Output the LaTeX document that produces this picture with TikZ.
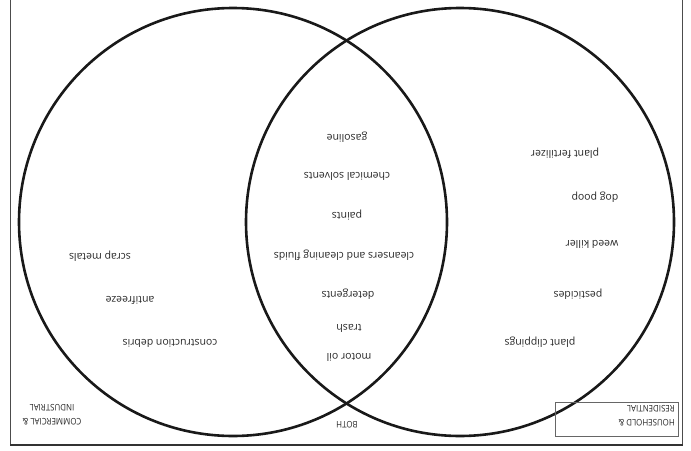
\documentclass[tikz,border=0pt]{standalone}
\usepackage{fontspec}
\setmainfont{Open Sans}
\begin{document}
\begin{tikzpicture}[x=1pt,y=-1pt,
  circ/.style={line width=2.6pt, black!90},
  item/.style={rotate=180, font=\fontsize{10.5}{12}\selectfont, text=black!85, inner sep=0pt},
  caplabel/.style={rotate=180, xscale=0.88, font=\fontsize{9}{14}\selectfont, text=black!85, inner sep=0pt, align=center},
  frame/.style={line width=1pt, black!70}]
\useasboundingbox (0,0) rectangle (691,450);
\draw[frame] (10.5,0) -- (10.5,445);
\draw[frame] (682,0) -- (682,445);
\draw[line width=1.6pt, black!80] (10,445) -- (682.5,445);
\draw[circ] (233,222) circle[radius=214pt];
\draw[circ] (460,222) circle[radius=214pt];
% middle
\node[item] (gas) at (347,137) {gasoline};
\node[item] (chem) at (347,176) {chemical solvents};
\node[item] (paint) at (347,215) {paints};
\node[item] (clean) at (344,255) {cleansers and cleaning fluids};
\node[item] (det) at (348,294) {detergents};
\node[item] (trash) at (349,328) {trash};
\node[item] (oil) at (349,357) {motor oil};
% left
\node[item] (scrap) at (100,256) {scrap metals};
\node[item] (anti) at (130,300) {antifreeze};
\node[item] (cons) at (170,343) {construction debris};
% right
\node[item] (fert) at (565,153) {plant fertilizer};
\node[item] (dog) at (595,197) {dog poop};
\node[item] (weed) at (592,244) {weed killer};
\node[item] (pest) at (578,294) {pesticides};
\node[item] (clip) at (540,342) {plant clippings};
% labels
\node[caplabel] (ci) at (52,415) {COMMERCIAL \&\\INDUSTRIAL};
\node[caplabel] (both) at (347,425) {BOTH};
\draw[line width=0.8pt, black!60] (555,402) rectangle (678,436);
\node[caplabel, align=left, anchor=west] (hr) at (675,416) {HOUSEHOLD \&\\RESIDENTIAL};
\end{tikzpicture}
\end{document}
